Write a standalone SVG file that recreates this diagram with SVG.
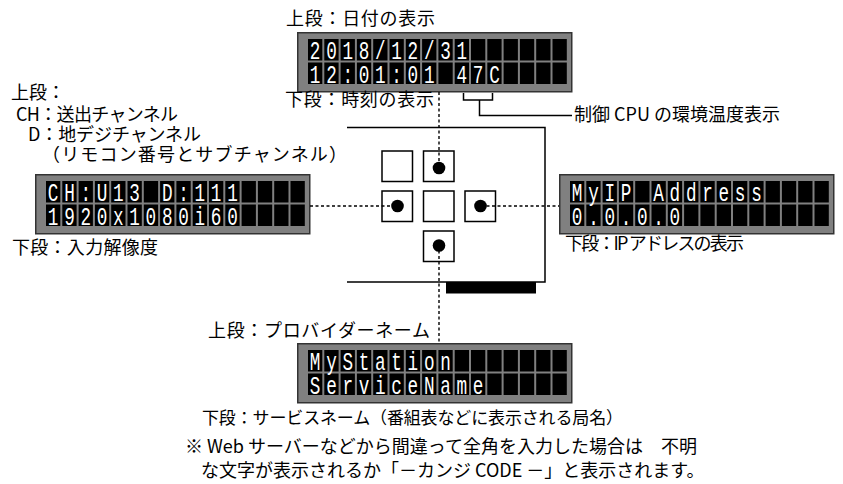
<svg xmlns="http://www.w3.org/2000/svg" xmlns:xlink="http://www.w3.org/1999/xlink" width="843" height="484" viewBox="0 0 843 484">
<style>
.lbl{font-family:"Noto Sans CJK JP","Noto Sans",sans-serif;font-size:18px;fill:#000}
.lcdt{font-family:"Liberation Mono","DejaVu Sans Mono",monospace;font-size:26px;fill:#fff;text-anchor:middle}
.dot{fill:none;stroke:#000;stroke-width:1.4;stroke-dasharray:3 2.5}
.ln{fill:none;stroke:#000;stroke-width:1.5}
.btn{fill:#fff;stroke:#000;stroke-width:1.5}
</style>
<defs>
<g id="lcd">
<rect x="0.75" y="0.75" width="274" height="59" fill="#808080" stroke="#333" stroke-width="1.5"/>
<g fill="#000">
<rect x="11" y="7" width="14.3" height="21.5"/><rect x="27.3" y="7" width="14.3" height="21.5"/><rect x="43.6" y="7" width="14.3" height="21.5"/><rect x="59.9" y="7" width="14.3" height="21.5"/><rect x="76.2" y="7" width="14.3" height="21.5"/><rect x="92.5" y="7" width="14.3" height="21.5"/><rect x="108.8" y="7" width="14.3" height="21.5"/><rect x="125.1" y="7" width="14.3" height="21.5"/><rect x="141.4" y="7" width="14.3" height="21.5"/><rect x="157.7" y="7" width="14.3" height="21.5"/><rect x="174" y="7" width="14.3" height="21.5"/><rect x="190.3" y="7" width="14.3" height="21.5"/><rect x="206.6" y="7" width="14.3" height="21.5"/><rect x="222.9" y="7" width="14.3" height="21.5"/><rect x="239.2" y="7" width="14.3" height="21.5"/><rect x="255.5" y="7" width="14.3" height="21.5"/>
<rect x="11" y="30.5" width="14.3" height="21.5"/><rect x="27.3" y="30.5" width="14.3" height="21.5"/><rect x="43.6" y="30.5" width="14.3" height="21.5"/><rect x="59.9" y="30.5" width="14.3" height="21.5"/><rect x="76.2" y="30.5" width="14.3" height="21.5"/><rect x="92.5" y="30.5" width="14.3" height="21.5"/><rect x="108.8" y="30.5" width="14.3" height="21.5"/><rect x="125.1" y="30.5" width="14.3" height="21.5"/><rect x="141.4" y="30.5" width="14.3" height="21.5"/><rect x="157.7" y="30.5" width="14.3" height="21.5"/><rect x="174" y="30.5" width="14.3" height="21.5"/><rect x="190.3" y="30.5" width="14.3" height="21.5"/><rect x="206.6" y="30.5" width="14.3" height="21.5"/><rect x="222.9" y="30.5" width="14.3" height="21.5"/><rect x="239.2" y="30.5" width="14.3" height="21.5"/><rect x="255.5" y="30.5" width="14.3" height="21.5"/>
</g>
</g>
</defs>

<g id="lcd-top">
<use href="#lcd" x="297" y="32"/>
<text class="lcdt" transform="translate(297 0) scale(0.68 1)"><tspan y="59.5" x="26.7 50.7 74.6 98.6 122.6 146.5 170.5 194.5 218.5 242.4">2018/12/31</tspan><tspan y="83" x="26.7 50.7 74.6 98.6 122.6 146.5 170.5 194.5 218.5 242.4 266.4 290.4">12:01:01 47C</tspan></text>
<text class="lbl" x="286" y="25" textLength="149">上段：日付の表示</text>
<text class="lbl" x="285" y="106" textLength="149">下段：時刻の表示</text>
</g>

<g id="lcd-left">
<use href="#lcd" x="35" y="174"/>
<text class="lcdt" transform="translate(35 0) scale(0.68 1)"><tspan y="201.5" x="26.7 50.7 74.6 98.6 122.6 146.5 170.5 194.5 218.5 242.4 266.4 290.4">CH:U13 D:111</tspan><tspan y="225" x="26.7 50.7 74.6 98.6 122.6 146.5 170.5 194.5 218.5 242.4 266.4 290.4">1920x1080i60</tspan></text>
<text class="lbl"><tspan x="11" y="99">上段：</tspan><tspan x="16" y="121" textLength="162">CH：送出チャンネル</tspan><tspan x="28" y="141" textLength="173">D：地デジチャンネル</tspan><tspan x="42" y="161" textLength="305">（リモコン番号とサブチャンネル）</tspan></text>
<text class="lbl" x="12" y="254" textLength="146">下段：入力解像度</text>
</g>

<g id="lcd-right">
<use href="#lcd" x="559" y="174"/>
<text class="lcdt" transform="translate(559 0) scale(0.68 1)"><tspan y="201.5" x="26.7 50.7 74.6 98.6 122.6 146.5 170.5 194.5 218.5 242.4 266.4 290.4">MyIP Address</tspan><tspan y="225" x="26.7 50.7 74.6 98.6 122.6 146.5 170.5">0.0.0.0</tspan></text>
<text class="lbl" x="565" y="250" textLength="179">下段：IP アドレスの表示</text>
</g>

<g id="lcd-bottom">
<use href="#lcd" x="297" y="343"/>
<text class="lcdt" transform="translate(297 0) scale(0.68 1)"><tspan y="370.5" x="26.7 50.7 74.6 98.6 122.6 146.5 170.5 194.5 218.5">MyStation</tspan><tspan y="394" x="26.7 50.7 74.6 98.6 122.6 146.5 170.5 194.5 218.5 242.4 266.4">ServiceName</tspan></text>
<text class="lbl" x="208" y="337" textLength="222">上段：プロバイダーネーム</text>
<text class="lbl" x="202" y="424" style="font-size:17px" textLength="421">下段：サービスネーム（番組表などに表示される局名）</text>
</g>

<g id="panel">
<path class="ln" d="M347 127.5 H545 V282 H347"/>
<rect x="446" y="282" width="90" height="11.5" fill="#000"/>
<rect class="btn" x="382" y="151" width="30.5" height="30.5"/>
<rect class="btn" x="423.5" y="151" width="30.5" height="30.5"/>
<rect class="btn" x="382" y="191" width="30.5" height="30.5"/>
<rect class="btn" x="423.5" y="191" width="30.5" height="30.5"/>
<rect class="btn" x="465" y="191" width="30.5" height="30.5"/>
<rect class="btn" x="423.5" y="231" width="30.5" height="30.5"/>
</g>

<g id="connectors">
<path class="dot" d="M439 92 V168 M439 245 V343 M310 206 H397 M481 206 H559"/>
<path class="ln" d="M463.5 93 V100 H492.5 V93 M479.5 100 V115.5 H572"/>
<circle cx="439" cy="168" r="6.3"/>
<circle cx="397.5" cy="206" r="6.3"/>
<circle cx="480.5" cy="206" r="6.3"/>
<circle cx="439" cy="245.5" r="6.3"/>
</g>

<g id="notes">
<text class="lbl" x="574" y="121">制御 CPU の環境温度表示</text>
<text class="lbl"><tspan x="185" y="453">※ Web サーバーなどから間違って全角を入力した場合は　不明</tspan><tspan x="201" y="477">な文字が表示されるか「－カンジ CODE －」と表示されます。</tspan></text>
</g>
</svg>
